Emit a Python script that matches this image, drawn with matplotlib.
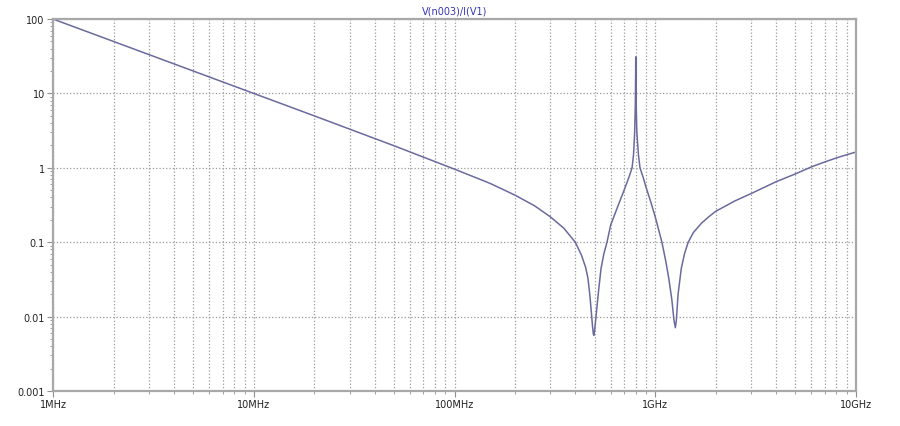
import matplotlib.pyplot as plt
from matplotlib.ticker import LogLocator, FixedLocator, NullFormatter

# frequency in MHz, impedance magnitude in ohm
freq_mhz = [1, 2, 5, 10, 20, 50, 100, 150, 200, 250, 300, 350, 400, 430, 450,
            462, 472, 480, 487, 492, 495, 499, 505, 512, 522, 537, 555, 575,
            600, 650, 700, 740, 767, 780, 790, 796, 799, 800, 801, 804, 810,
            825, 840, 870, 900, 950, 1000, 1080, 1130, 1170, 1210, 1240, 1260,
            1275, 1300, 1350, 1400, 1460, 1550, 1700, 1850, 2000, 2500, 3000,
            4000, 5000, 6000, 7000, 8000, 9000, 10000]
impedance = [100, 50, 20, 10, 5, 1.98, 0.96, 0.62, 0.43, 0.31, 0.22, 0.155,
             0.1, 0.066, 0.046, 0.033, 0.02, 0.012, 0.0075, 0.0058, 0.0056,
             0.0065, 0.009, 0.013, 0.022, 0.044, 0.07, 0.1, 0.17, 0.3, 0.5,
             0.75, 1.0, 1.5, 3.0, 7, 18, 31, 18, 7, 3.0, 1.5, 1.0, 0.75, 0.55,
             0.35, 0.22, 0.1, 0.055, 0.032, 0.017, 0.009, 0.0071, 0.009, 0.02,
             0.045, 0.07, 0.1, 0.135, 0.18, 0.22, 0.26, 0.36, 0.45, 0.65, 0.83,
             1.03, 1.2, 1.36, 1.5, 1.63]

x_ticks = [1, 10, 100, 1000, 10000]
x_labels = ['1MHz', '10MHz', '100MHz', '1GHz', '10GHz']
y_ticks = [0.001, 0.01, 0.1, 1, 10, 100]
y_labels = ['0.001', '0.01', '0.1', '1', '10', '100']

fig = plt.figure(figsize=(9, 4.27), dpi=100)
ax = fig.add_axes([0.059, 0.082, 0.892, 0.871])

ax.plot(freq_mhz, impedance, color='#6a6a9e', linewidth=1.1)

ax.set_xscale('log')
ax.set_yscale('log')
ax.set_xlim(1, 10000)
ax.set_ylim(0.001, 100)

ax.xaxis.set_major_locator(FixedLocator(x_ticks))
ax.set_xticklabels(x_labels)
ax.xaxis.set_minor_locator(LogLocator(base=10, subs=range(2, 10)))
ax.xaxis.set_minor_formatter(NullFormatter())
ax.yaxis.set_major_locator(FixedLocator(y_ticks))
ax.set_yticklabels(y_labels)
ax.yaxis.set_minor_locator(LogLocator(base=10, subs=range(2, 10)))
ax.yaxis.set_minor_formatter(NullFormatter())

ax.grid(True, which='major', axis='both', color='#9a9a9a', linestyle=':', linewidth=0.9)
ax.grid(True, which='minor', axis='x', color='#9a9a9a', linestyle=':', linewidth=0.9)

for s in ax.spines.values():
    s.set_color('#a8a8a8')
    s.set_linewidth(1.6)

ax.tick_params(which='major', length=4, color='#909090', labelsize=7,
               labelcolor='#222222', pad=2)
ax.tick_params(which='minor', length=2, color='#909090')

ax.set_title('V(n003)/I(V1)', fontsize=7, color='#3535b5', pad=4)

fig.savefig('out.png', dpi=100, facecolor='white')
